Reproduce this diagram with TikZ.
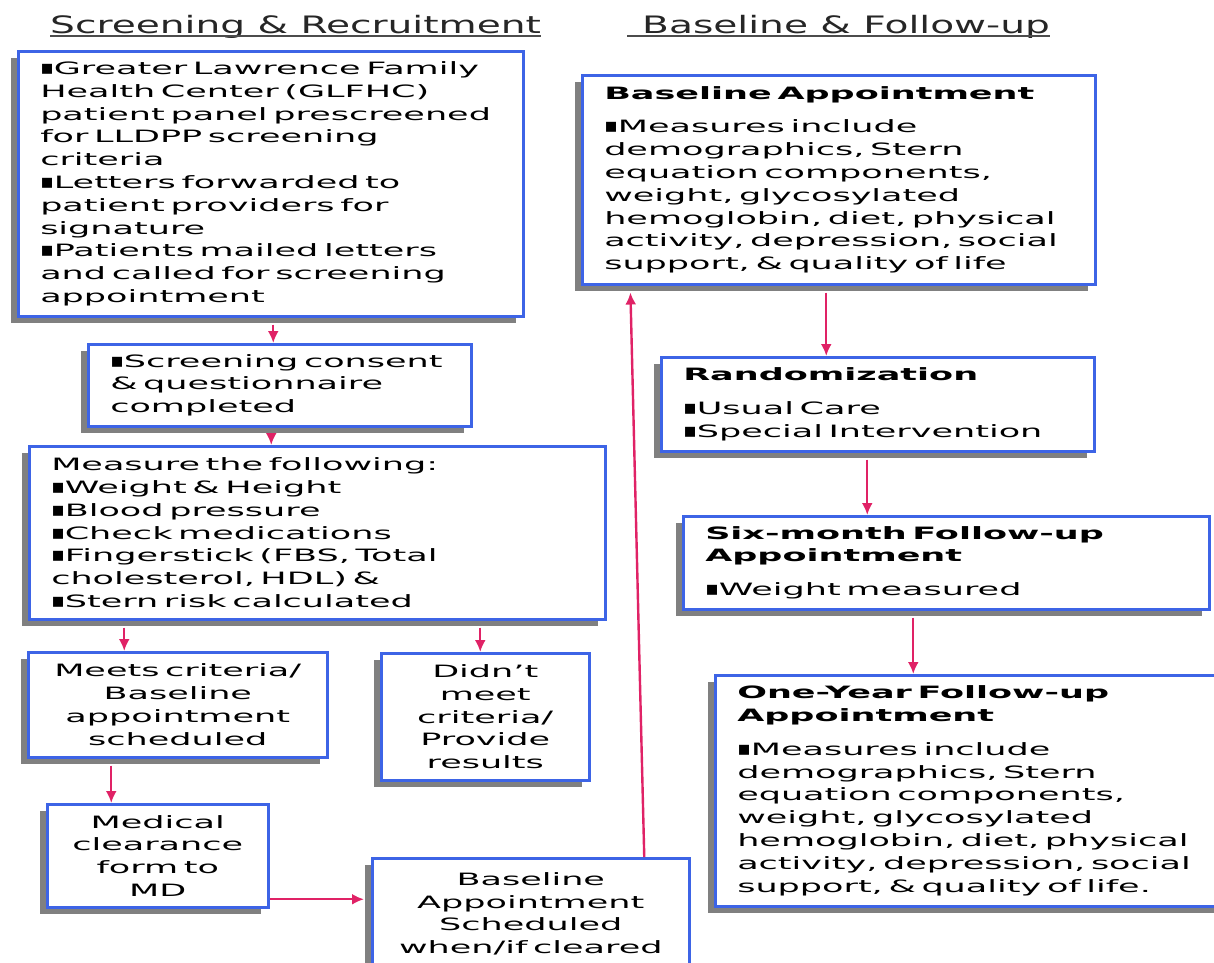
\documentclass[tikz,border=0pt]{standalone}
\usepackage{fontspec}
\setmainfont[FakeStretch=2.06]{DejaVu Sans}
\newfontfamily\headfont[FakeStretch=1.63]{DejaVu Sans}
\newfontfamily\bulletfont{DejaVu Sans}
\newcommand\sqbullet{{\bulletfont\fontsize{20}{22.8}\selectfont ▪}}
\usepackage{tikz}
\usetikzlibrary{positioning, calc, arrows.meta, shadows}
\definecolor{frame blue}{HTML}{3D64E6}
\colorlet{shadow grey}{black!50}
\definecolor{arrow red}{HTML}{E02266}
\tikzset{panel/.style={draw=frame blue, line width=2.5pt, fill=white, anchor=north west, inner xsep=22pt, inner ysep=3pt, font=\fontsize{17}{22.8}\selectfont, general shadow={fill=shadow grey, shadow xshift=-7pt, shadow yshift=-7pt}}}
\tikzset{flow/.style={draw=arrow red, line width=2.4pt, -{Latex[length=12pt,width=11pt]}}}
\tikzset{head/.style={font=\headfont\fontsize{24}{28}\selectfont, inner sep=0pt, anchor=base west, text=black!85}}
\tikzset{underline/.style={draw=black!70, line width=1.5pt}}

\begin{document}
\begin{tikzpicture}[x=1pt, y=-1pt]
                \useasboundingbox (0,0) rectangle (1214,962);
                % column headings
                \node[head] (screenhead) at (50,33) {Screening \& Recruitment};
                \node[head] (followhead) at (642,33) {Baseline \& Follow-up};
                \draw[underline] ([yshift=-3pt]screenhead.base west) -- ([yshift=-3pt]screenhead.base east);
                \draw[underline] ([xshift=-15pt,yshift=-3pt]followhead.base west) -- ([yshift=-3pt]followhead.base east);
                % screening & recruitment
                \node[panel, minimum width=505pt, minimum height=265pt, text width=461pt, align=left] (glfhc) at (17,50) {\sqbullet Greater Lawrence Family\\Health Center (GLFHC)\\patient panel prescreened\\for LLDPP screening\\criteria\\\sqbullet Letters forwarded to\\patient providers for\\signature\\\sqbullet Patients mailed letters\\and called for screening\\appointment};
                \node[panel, minimum width=383pt, minimum height=82pt, text width=339pt, align=left] (consent) at (87,343) {\sqbullet Screening consent\\\& questionnaire\\completed};
                \node[panel, minimum width=576pt, minimum height=173pt, text width=532pt, align=left] (measure) at (28,445) {Measure the following:\\\sqbullet Weight \& Height\\\sqbullet Blood pressure\\\sqbullet Check medications\\\sqbullet Fingerstick (FBS, Total\\cholesterol, HDL) \&\\\sqbullet Stern risk calculated};
                \node[panel, minimum width=299pt, minimum height=105pt, text width=255pt, align=center] (meets) at (27,651) {Meets criteria/\\Baseline\\appointment\\scheduled};
                \node[panel, minimum width=208pt, minimum height=127pt, text width=164pt, align=center] (didnt) at (380,652) {Didn’t\\meet\\criteria/\\Provide\\results};
                \node[panel, minimum width=221pt, minimum height=103pt, text width=177pt, align=center] (clearance) at (46,803) {Medical\\clearance\\form to\\MD};
                \node[panel, minimum width=317pt, minimum height=111pt, text width=273pt, align=center] (scheduled) at (371,857) {Baseline\\Appointment\\Scheduled\\when/if cleared};
                % baseline & follow-up
                \node[panel, minimum width=513pt, minimum height=209pt, text width=469pt, align=left] (baseline) at (581,74) {\textbf{Baseline Appointment}\\[11pt]\sqbullet Measures include\\demographics, Stern\\equation components,\\weight, glycosylated\\hemoglobin, diet, physical\\activity, depression, social\\support, \& quality of life};
                \node[panel, minimum width=433pt, minimum height=94pt, text width=389pt, align=left] (random) at (660,356) {\textbf{Randomization}\\[11pt]\sqbullet Usual Care\\\sqbullet Special Intervention};
                \node[panel, minimum width=526pt, minimum height=93pt, text width=482pt, align=left] (sixmonth) at (682,515) {\textbf{Six-month Follow-up}\\\textbf{Appointment}\\[11pt]\sqbullet Weight measured};
                \node[panel, minimum width=511pt, minimum height=231pt, text width=467pt, align=left] (oneyear) at (714,674) {\textbf{One-Year Follow-up}\\\textbf{Appointment}\\[11pt]\sqbullet Measures include\\demographics, Stern\\equation components,\\weight, glycosylated\\hemoglobin, diet, physical\\activity, depression, social\\support, \& quality of life.};
                % arrows
                \draw[flow, shorten <=7pt] ([xshift=2.5pt]glfhc.south) -- ([xshift=2.5pt]glfhc.south |- consent.north);
                \draw[flow, shorten <=7pt] ([xshift=-8.5pt]consent.south) -- ([xshift=-8.5pt]consent.south |- measure.north);
                \draw[flow, shorten <=7pt] ([xshift=-53.5pt]meets.north |- measure.south) -- ([xshift=-53.5pt]meets.north);
                \draw[flow, shorten <=7pt] ([xshift=-5pt]didnt.north |- measure.south) -- ([xshift=-5pt]didnt.north);
                \draw[flow, shorten <=7pt] ([xshift=-46.5pt]clearance.north |- meets.south) -- ([xshift=-46.5pt]clearance.north);
                \draw[flow, shorten >=7pt] ([yshift=-43.5pt]clearance.east) -- ([yshift=-43.5pt]clearance.east -| scheduled.west);
                \draw[flow, shorten >=7pt] ([xshift=113.5pt]scheduled.north) -- ([xshift=-208.5pt]baseline.south);
                \draw[flow, shorten <=7pt] ([xshift=-12.5pt]baseline.south) -- ([xshift=-12.5pt]baseline.south |- random.north);
                \draw[flow, shorten <=7pt] ([xshift=-10.5pt]random.south) -- ([xshift=-10.5pt]random.south |- sixmonth.north);
                \draw[flow, shorten <=7pt] ([xshift=-33pt]sixmonth.south) -- ([xshift=-33pt]sixmonth.south |- oneyear.north);
            \end{tikzpicture}
\end{document}
